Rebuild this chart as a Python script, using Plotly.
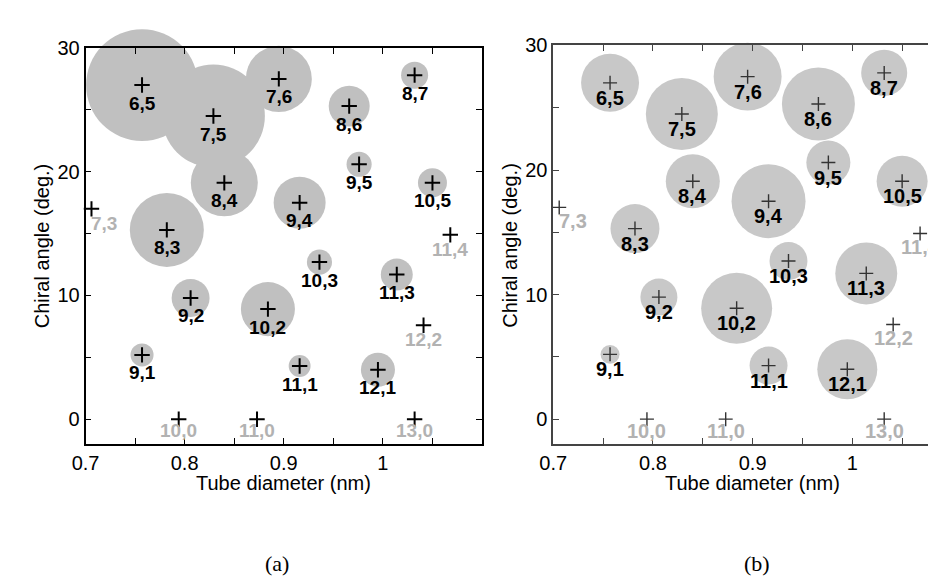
import plotly.graph_objects as go

# ---------------- data ----------------
active_labels = ["6,5", "7,5", "7,6", "8,6", "8,7", "8,4", "9,4", "9,5", "10,5",
                 "8,3", "10,3", "11,3", "9,2", "10,2", "9,1", "11,1", "12,1"]
active_diameter = [0.757, 0.829, 0.895, 0.966, 1.032, 0.840, 0.916, 0.976, 1.050,
                   0.782, 0.936, 1.014, 0.806, 0.884, 0.757, 0.916, 0.995]
active_angle = [27.0, 24.5, 27.5, 25.3, 27.8, 19.1, 17.5, 20.6, 19.1,
                15.3, 12.7, 11.7, 9.8, 8.9, 5.2, 4.3, 4.0]
# relative PL intensities (bubble area) for panel (a) and panel (b)
intensity_a = [125, 106, 43.6, 16.8, 7.3, 44.9, 27.0, 6.3, 8.4,
               54.8, 6.3, 10.2, 14.4, 29.2, 5.3, 4.8, 11.6]
intensity_b = [33.6, 51.8, 46.2, 53.3, 21.2, 29.2, 54.8, 19.4, 26.0,
               24.0, 14.4, 38.4, 13.7, 50.4, 3.6, 14.4, 36.0]

inactive_labels = ["7,3", "11,4", "12,2", "10,0", "11,0", "13,0"]
inactive_diameter = [0.706, 1.068, 1.041, 0.794, 0.873, 1.032]
inactive_angle = [17.0, 14.9, 7.6, 0.0, 0.0, 0.0]

x_tickvals = [0.7, 0.8, 0.9, 1.0]
x_ticktext = ["0.7", "0.8", "0.9", "1"]
x_minor = [0.75, 0.85, 0.95, 1.05]
y_tickvals = [0, 10, 20, 30]
y_minor = [5, 15, 25]
x_title = "Tube diameter (nm)"
y_title = "Chiral angle (deg.)"
panel_labels = ["(a)", "(b)"]

# ---------------- layout helpers ----------------
W, H = 936, 577
def fx(p):
    return p / W
def fy(p):
    return 1 - p / H

FONT = "Arial"
SERIF = "Times New Roman"

panels = [
    dict(xa="x", ya="y", xaxis="xaxis", yaxis="yaxis", intens=intensity_a,
         fill="rgb(192,192,192)", plus="#000000", plus_w=2, plus_size=11,
         axcol="#000000", lab_size=19, off_act=18, off_inact=14.5, off_zero=11.5,
         xdom=[fx(64.5), fx(467)], ydom=[fy(433.3), fy(29.5)],
         xrange=[0.7, 1.1], mirror_y="ticks", ytitle_x=20, xtitle_x=0.9,
         plabel_x=259),
    dict(xa="x2", ya="y2", xaxis="xaxis2", yaxis="yaxis2", intens=intensity_b,
         fill="rgb(200,200,200)", plus="#333333", plus_w=1.4, plus_size=10,
         axcol="#444444", lab_size=20, off_act=15, off_inact=13.5, off_zero=11.5,
         xdom=[fx(539.3), 1.0], ydom=[fy(433.3), fy(27)],
         xrange=[0.7, 0.7 + (936 - 539.3) / 1012], mirror_y=False, ytitle_x=494.5,
         xtitle_x=0.9, plabel_x=746),
]

annotations = []
for p in panels:
    p["bubbles"] = go.Scatter(
        x=active_diameter, y=active_angle, xaxis=p["xa"], yaxis=p["ya"],
        mode="markers", cliponaxis=False, hoverinfo="skip",
        marker=dict(size=p["intens"], sizemode="area", sizeref=0.02,
                    color=p["fill"], line=dict(width=0), opacity=1),
    )
    p["crosses"] = go.Scatter(
        x=active_diameter + inactive_diameter, y=active_angle + inactive_angle,
        xaxis=p["xa"], yaxis=p["ya"], mode="markers", cliponaxis=False,
        marker=dict(symbol="cross-thin", size=p["plus_size"],
                    line=dict(width=p["plus_w"], color=p["plus"]), color=p["plus"]),
        hoverinfo="skip",
    )
    for lab, xv, yv in zip(active_labels, active_diameter, active_angle):
        annotations.append(dict(
            x=xv, y=yv, xref=p["xa"], yref=p["ya"], text=f"<b>{lab}</b>",
            showarrow=False, yshift=-p["off_act"], xanchor="center", yanchor="middle",
            font=dict(family=FONT, size=p["lab_size"], color="#000000")))
    for lab, xv, yv in zip(inactive_labels, inactive_diameter, inactive_angle):
        off = p["off_zero"] if yv == 0 else p["off_inact"]
        left_edge = xv < 0.72
        annotations.append(dict(
            x=xv, y=yv, xref=p["xa"], yref=p["ya"], text=f"<b>{lab}</b>",
            showarrow=False, yshift=-off,
            xanchor="left" if left_edge else "center",
            xshift=-2.5 if left_edge else 0, yanchor="middle",
            font=dict(family=FONT, size=p["lab_size"], color="rgb(178,178,178)")))
    annotations.append(dict(
        x=p["xtitle_x"], y=fy(473), xref=p["xa"], yref="paper", text=x_title,
        showarrow=False, xanchor="center", yanchor="middle",
        font=dict(family=FONT, size=20, color="#000000")))
    annotations.append(dict(
        x=fx(p["ytitle_x"]), y=fy(231), xref="paper", yref="paper", text=y_title,
        showarrow=False, textangle=-90, xanchor="center", yanchor="middle",
        font=dict(family=FONT, size=20, color="#000000")))

for i, p in enumerate(panels):
    annotations.append(dict(
        x=fx(p["plabel_x"]), y=fy(555), xref="paper", yref="paper", text=panel_labels[i],
        showarrow=False, xanchor="center", yanchor="middle",
        font=dict(family=SERIF, size=22, color="#000000")))

fig = go.Figure()
for p in panels:
    fig.add_trace(p["bubbles"])
    fig.add_trace(p["crosses"])

layout = dict(
    width=W, height=H, margin=dict(l=0, r=0, t=0, b=0),
    paper_bgcolor="white", plot_bgcolor="rgba(0,0,0,0)",
    showlegend=False, annotations=annotations,
    font=dict(family=FONT, size=20, color="#000000"),
)
for p in panels:
    layout[p["xaxis"]] = dict(
        domain=p["xdom"], range=p["xrange"], anchor=p["ya"],
        showline=True, linecolor=p["axcol"], linewidth=1.6, mirror="ticks",
        ticks="inside", ticklen=6, tickwidth=1.3, tickcolor=p["axcol"],
        tickvals=x_tickvals, ticktext=x_ticktext,
        minor=dict(tickvals=x_minor, ticks="inside", ticklen=6, tickwidth=1.3,
                   tickcolor=p["axcol"], showgrid=False),
        showgrid=False, zeroline=False,
        tickfont=dict(family=FONT, size=20, color="#000000"),
    )
    layout[p["yaxis"]] = dict(
        domain=p["ydom"], range=[-2, 30], anchor=p["xa"],
        showline=True, linecolor=p["axcol"], linewidth=1.6, mirror=p["mirror_y"],
        ticks="inside", ticklen=6, tickwidth=1.3, tickcolor=p["axcol"],
        tickvals=y_tickvals,
        minor=dict(tickvals=y_minor, ticks="inside", ticklen=6, tickwidth=1.3,
                   tickcolor=p["axcol"], showgrid=False),
        showgrid=False, zeroline=False,
        tickfont=dict(family=FONT, size=20, color="#000000"),
    )
fig.update_layout(**layout)
fig.write_html("out.html")
